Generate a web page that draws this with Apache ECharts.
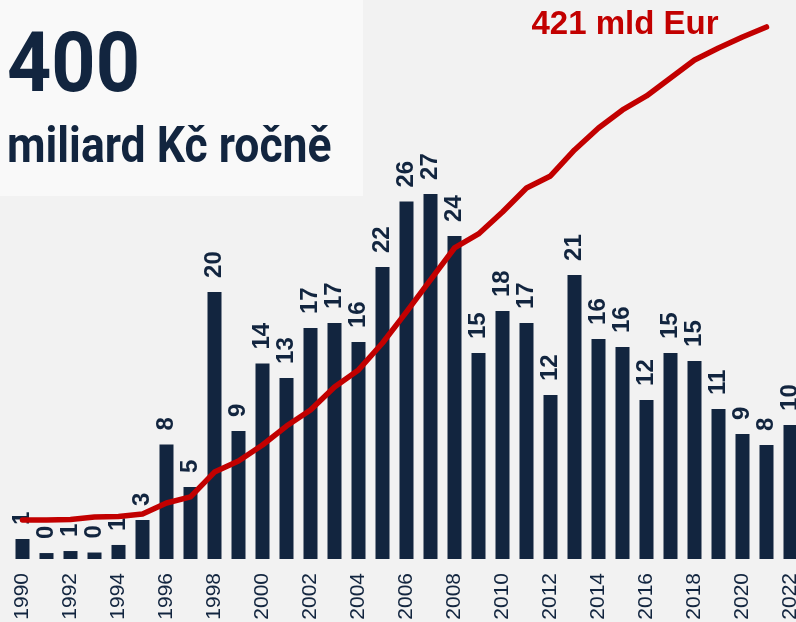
<!DOCTYPE html>
<html><head><meta charset="utf-8">
<script src="https://cdn.jsdelivr.net/npm/echarts@6/dist/echarts.min.js"></script>
<style>html,body{margin:0;padding:0;background:#f2f2f2}#c{width:796px;height:622px}</style>
</head><body><div id="c"></div>
<script>
const years = ['1990','1991','1992','1993','1994','1995','1996','1997','1998','1999',
  '2000','2001','2002','2003','2004','2005','2006','2007','2008','2009',
  '2010','2011','2012','2013','2014','2015','2016','2017','2018','2019',
  '2020','2021','2022'];
// yearly inflow (bars)
const yearly = [1.48,0.44,0.59,0.48,1.04,2.89,8.48,5.33,19.78,9.48,
  14.48,13.41,17.11,17.48,16.07,21.63,26.48,27.04,23.93,15.26,
  18.37,17.48,12.15,21.04,16.30,15.70,11.78,15.26,14.67,11.11,
  9.26,8.44,9.93];
// cumulative (red line), mld Eur
const cumulative = [30.9,30.9,31.3,33.2,33.6,35.6,44.3,49.1,68.8,77.5,
  90.2,105.2,117.9,136.1,149.6,170.9,195.5,220.8,246.1,257.2,
  274.6,293.6,303.1,323.7,341.1,355.3,366.4,380.6,394.9,404.4,
  413.1,421.0];
const headline = '400';
const subline = 'miliard Kč ročně';
const unitLabel = ' mld Eur';

const navy = '#12253f';
const red = '#c20000';

const lineData = cumulative.map((v, i) => i === cumulative.length - 1 ? {
  value: v,
  label: {
    show: true, position: 'left', distance: 5, offset: [-43, -2],
    formatter: p => Math.round(p.value) + unitLabel,
    color: red, fontFamily: 'Liberation Sans, Arial', fontWeight: 'bold', fontSize: 33
  }
} : v);

const chart = echarts.init(document.getElementById('c'), null, {renderer: 'canvas'});
chart.setOption({
  backgroundColor: '#f2f2f2',
  animation: false,
  grid: {left: 10.5, top: 19, width: 792, bottom: 63, containLabel: false, outerBoundsMode: 'none'},
  xAxis: {
    type: 'category', data: years, boundaryGap: true,
    axisLine: {show: false}, axisTick: {show: false},
    axisLabel: {interval: 1, rotate: 90, margin: 14, fontSize: 21,
      fontFamily: 'Liberation Sans, Arial', color: navy}
  },
  yAxis: [
    {type: 'value', min: 0, max: 40, show: false, splitLine: {show: false}},
    {type: 'value', min: 0, max: 427.3, show: false, splitLine: {show: false}}
  ],
  series: [
    {
      type: 'bar', data: yearly, barWidth: 14, yAxisIndex: 0,
      itemStyle: {color: navy},
      label: {
        show: true, position: 'top', rotate: 90, align: 'left', verticalAlign: 'middle',
        distance: 14, formatter: p => Math.round(p.value),
        fontFamily: 'Liberation Sans, Arial', fontWeight: 'bold', fontSize: 24, color: navy
      }
    },
    {
      type: 'line', data: lineData, yAxisIndex: 1, symbol: 'circle', symbolSize: 0,
      showSymbol: true, z: 5,
      itemStyle: {color: red},
      lineStyle: {color: red, width: 5.5, join: 'round', cap: 'round'}
    }
  ],
  graphic: [
    {type: 'rect', left: 0, top: 0, shape: {width: 363, height: 196}, style: {fill: '#f9f9f9'}, z: 10},
    {type: 'text', left: 7, top: 28, z: 11, scaleX: 0.92,
      style: {text: headline, fill: navy, font: 'bold 84px Roboto'}},
    {type: 'text', left: 7, top: 124, z: 11, scaleX: 0.89,
      style: {text: subline, fill: navy, font: 'bold 50px Roboto'}}
  ]
});
</script></body></html>
